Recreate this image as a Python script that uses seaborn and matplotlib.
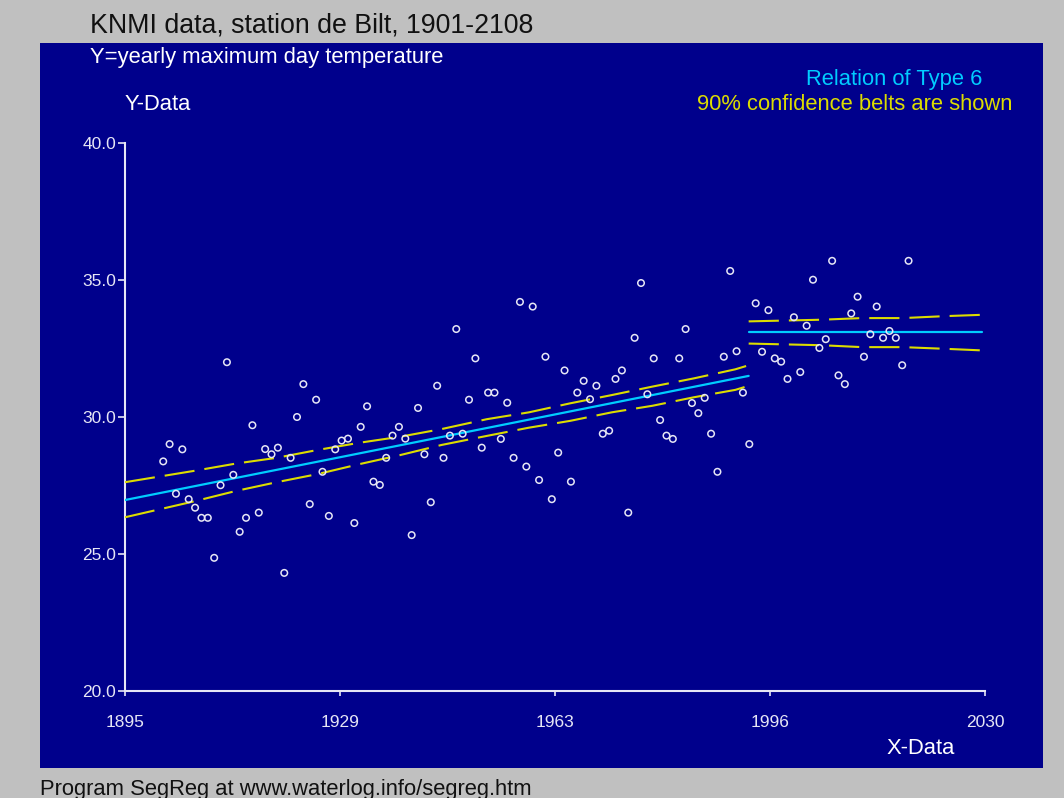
import matplotlib
matplotlib.use("Agg")
import matplotlib.pyplot as plt
from matplotlib.patches import Rectangle
import seaborn as sns
import pandas as pd

# ---------------- data ----------------
years = list(range(1901, 2019))
tmax = [
    28.38, 29.01, 27.20, 28.82, 27.00, 26.69, 26.32, 26.32, 24.86, 27.51,  # 1901-1910
    32.00, 27.89, 25.81, 26.32, 29.70, 26.51, 28.83, 28.64, 28.88, 24.31,  # 1911-1920
    28.51, 30.00, 31.20, 26.82, 30.63, 28.00, 26.39, 28.82, 29.14, 29.21,  # 1921-1930
    26.13, 29.64, 30.39, 27.64, 27.52, 28.51, 29.32, 29.64, 29.21, 25.69,  # 1931-1940
    30.33, 28.64, 26.89, 31.14, 28.51, 29.32, 33.21, 29.39, 30.63, 32.14,  # 1941-1950
    28.88, 30.89, 30.89, 29.20, 30.52, 28.51, 34.20, 28.19, 34.03, 27.70,  # 1951-1960
    32.20, 27.00, 28.70, 31.70, 27.64, 30.89, 31.32, 30.65, 31.14, 29.39,  # 1961-1970
    29.50, 31.39, 31.70, 26.51, 32.89, 34.89, 30.83, 32.14, 29.89, 29.32,  # 1971-1980
    29.20, 32.14, 33.21, 30.51, 30.14, 30.70, 29.39, 28.00, 32.20, 35.33,  # 1981-1990
    32.40, 30.89, 29.01, 34.15, 32.38, 33.90, 32.14, 32.02, 31.39, 33.64,  # 1991-2000
    31.64, 33.33, 35.01, 32.52, 32.84, 35.70, 31.52, 31.20, 33.78, 34.39,  # 2001-2010
    32.20, 33.02, 34.03, 32.89, 33.14, 32.89, 31.89, 35.70,                # 2011-2018
]

# segmented regression (Type 6): rising line, then horizontal line
seg1_x = [1895.0, 1992.9]
seg1_y = [26.97, 31.50]
seg2_x = [1992.9, 2029.6]
seg2_y = [33.11, 33.11]

# 90% confidence belts
belt1_x = [1895, 1906, 1912.4, 1918.8, 1925.3, 1931.8, 1938.2, 1944.7,
           1951.8, 1958.4, 1964.9, 1971.4, 1977.8, 1984.3, 1990.8, 1992.5]
belt1_up = [27.62, 28.04, 28.30, 28.51, 28.80, 29.06, 29.28, 29.56,
            29.92, 30.17, 30.50, 30.80, 31.11, 31.41, 31.74, 31.86]
belt1_lo = [26.34, 26.93, 27.30, 27.62, 27.92, 28.28, 28.61, 28.98,
            29.31, 29.61, 29.86, 30.17, 30.41, 30.72, 30.99, 31.11]
belt2_x = [1992.9, 2004.3, 2010.7, 2017.1, 2023.6, 2029.6]
belt2_up = [33.49, 33.55, 33.61, 33.61, 33.68, 33.73]
belt2_lo = [32.68, 32.62, 32.55, 32.55, 32.49, 32.43]

xtick_pos = [1895, 1928.75, 1962.5, 1996.25, 2030]
xtick_lab = ["1895", "1929", "1963", "1996", "2030"]
ytick_pos = [20, 25, 30, 35, 40]
ytick_lab = ["20.0", "25.0", "30.0", "35.0", "40.0"]

# ---------------- styling ----------------
sns.set_theme(style="ticks")
plt.rcParams["font.family"] = ["Liberation Sans", "DejaVu Sans"]

W, H = 1064, 798
GRAY = "#C0C0C0"
PANEL = "#00008C"
CYAN = "#00CCFF"
YELLOW = "#DCDC00"
LIGHT = "#E6E6F5"

fig = plt.figure(figsize=(W / 100, H / 100), dpi=100, facecolor=GRAY)
bg = fig.add_axes([40 / W, 1 - 768 / H, (1043 - 40) / W, (768 - 43) / H], zorder=0)
bg.set_facecolor(PANEL)
bg.set_xticks([])
bg.set_yticks([])
for s in bg.spines.values():
    s.set_visible(False)

ax = fig.add_axes([125 / W, 1 - 691 / H, 860 / W, 548 / H], zorder=2)
ax.set_facecolor("none")

df = pd.DataFrame({"year": years, "tmax": tmax})
sns.scatterplot(data=df, x="year", y="tmax", ax=ax, marker="o", s=22,
                facecolor="none", edgecolor=LIGHT, linewidth=1.1, zorder=5)

dash = (0, (14.5, 4.8))
for bx, by in [(belt1_x, belt1_up), (belt1_x, belt1_lo),
               (belt2_x, belt2_up), (belt2_x, belt2_lo)]:
    sns.lineplot(x=bx, y=by, ax=ax, color=YELLOW, linewidth=1.5,
                 linestyle=dash, estimator=None, sort=False, zorder=3)

for sx, sy in [(seg1_x, seg1_y), (seg2_x, seg2_y)]:
    sns.lineplot(x=sx, y=sy, ax=ax, color=CYAN, linewidth=1.6,
                 estimator=None, sort=False, zorder=4)

ax.set_xlim(1895, 2030)
ax.set_ylim(20, 40)
ax.set_xticks(xtick_pos)
ax.set_xticklabels(xtick_lab)
ax.set_yticks(ytick_pos)
ax.set_yticklabels(ytick_lab)
ax.set_xlabel("")
ax.set_ylabel("")

for side in ["top", "right"]:
    ax.spines[side].set_visible(False)
for side in ["left", "bottom"]:
    ax.spines[side].set_color(LIGHT)
    ax.spines[side].set_linewidth(1.5)

ax.tick_params(axis="y", colors=LIGHT, length=5, width=1.2, pad=1.5, labelsize=12.5,
               labelcolor=LIGHT)
ax.tick_params(axis="x", colors=LIGHT, length=3.5, width=1.2, pad=14, labelsize=12.5,
               labelcolor=LIGHT)

def ftext(x, y, s, **kw):
    fig.text(x / W, 1 - y / H, s, va="center", **kw)

ftext(90, 25, "KNMI data, station de Bilt, 1901-2108", color="#111111", fontsize=19.3)
ftext(90, 57, "Y=yearly maximum day temperature", color="white", fontsize=15.8)
ftext(125, 104, "Y-Data", color="white", fontsize=15.8)
ftext(982, 80, "Relation of Type 6", color=CYAN, fontsize=15.8, ha="right")
ftext(1012, 105, "90% confidence belts are shown", color=YELLOW, fontsize=15.8, ha="right")
ftext(955, 748, "X-Data", color="white", fontsize=15.8, ha="right")
ftext(40, 789, "Program SegReg at www.waterlog.info/segreg.htm", color="#111111", fontsize=15.8)

fig.savefig("out.png", dpi=100, facecolor=GRAY)
